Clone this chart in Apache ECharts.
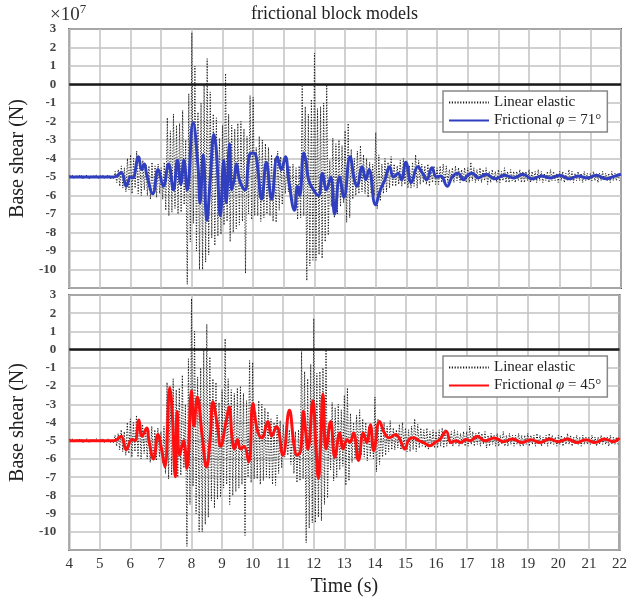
<!DOCTYPE html>
<html>
<head>
<meta charset="utf-8">
<script src="https://cdn.jsdelivr.net/npm/echarts@6/dist/echarts.min.js"></script>
<style>html,body{margin:0;padding:0;background:#fff}#c{width:630px;height:598px}</style>
</head>
<body>
<div id="c"></div>
<script>
// ---- data (values in units of 1e7 N) ----
const xTicks = [4,5,6,7,8,9,10,11,12,13,14,15,16,17,18,19,20,21,22];
const yTicks = [-10,-9,-8,-7,-6,-5,-4,-3,-2,-1,0,1,2,3];

// Linear elastic: one oscillation per cycle, cycles start at elasticStart, every elasticStep s
const elasticStart = 4.0;
const elasticStep = 0.1;
const elasticPeaks = [
 -4.95,-4.9,-4.95,-4.95,-4.9,-4.95,-4.9,-4.95,-4.95,-4.9,
 -4.95,-4.9,-4.95,-4.9,-4.95,-4.7,-4.6,-4.4,-4.5,-4.0,
 -3.8,-4.0,-3.6,-3.9,-4.1,-4.3,-4.4,-4.2,-4.4,-4.3,
 -4.5,-4.2,-1.8,-2.5,-1.6,-2.2,-2.1,-1.4,-3.0,-0.5,
 2.8,1.0,-1.5,-1.0,0.0,1.4,-0.4,-1.6,-1.8,-2.9,
 -2.2,0.6,-1.6,-2.2,-2.4,-2.1,-2.0,-2.4,-2.8,-0.6,
 -0.7,-3.4,-2.8,-3.0,-3.2,-3.4,-3.8,-4.0,-3.6,-3.9,
 -4.1,-4.2,-4.4,-4.3,-4.5,-4.4,-0.1,-1.2,-1.6,-0.8,
 1.7,-1.3,-1.2,-1.0,0.0,-4.1,-2.9,-3.2,-3.0,-3.3,
 -2.5,-2.1,-3.5,-4.0,-3.6,-3.3,-3.8,-4.0,-4.2,-4.3,
 -2.6,-3.8,-4.3,-4.0,-4.2,-3.9,-4.3,-4.4,-4.1,-4.0,
 -4.3,-4.4,-4.2,-3.8,-4.1,-4.3,-4.4,-4.3,-4.5,-4.4,
 -4.5,-4.4,-4.3,-4.4,-4.6,-4.5,-4.4,-4.5,-4.6,-4.5,
 -4.5,-4.2,-4.5,-4.6,-4.5,-4.6,-4.5,-4.7,-4.6,-4.7,
 -4.6,-4.7,-4.5,-4.7,-4.6,-4.7,-4.7,-4.6,-4.7,-4.7,
 -4.6,-4.7,-4.7,-4.6,-4.7,-4.8,-4.7,-4.6,-4.7,-4.8,
 -4.7,-4.7,-4.8,-4.6,-4.7,-4.8,-4.7,-4.8,-4.7,-4.8,
 -4.8,-4.7,-4.8,-4.8,-4.7,-4.8,-4.8,-4.7,-4.8,-4.8
];
const elasticTroughs = [
 -5.05,-5.1,-5.05,-5.05,-5.1,-5.05,-5.1,-5.05,-5.05,-5.1,
 -5.05,-5.1,-5.05,-5.1,-5.1,-5.3,-5.5,-5.6,-5.8,-5.7,
 -5.9,-5.6,-5.9,-6.0,-5.7,-6.0,-6.2,-6.0,-6.1,-5.9,
 -6.2,-6.8,-7.1,-6.9,-6.7,-7.0,-6.9,-6.5,-10.8,-8.5,
 -7.5,-9.0,-10.0,-10.0,-9.6,-9.2,-8.3,-8.7,-8.2,-8.1,
 -7.6,-7.4,-8.5,-8.0,-7.8,-7.6,-7.4,-10.2,-7.0,-7.3,
 -7.1,-7.1,-7.4,-7.2,-7.0,-7.1,-7.4,-7.45,-6.8,-6.5,
 -5.9,-5.8,-6.3,-6.8,-7.3,-7.2,-7.1,-10.6,-9.8,-9.5,
 -9.5,-9.2,-9.4,-8.5,-8.15,-6.6,-7.2,-7.0,-6.6,-6.4,
 -7.45,-7.2,-6.2,-6.0,-5.9,-5.8,-5.9,-6.1,-5.9,-6.0,
 -6.7,-6.3,-5.9,-5.8,-5.6,-5.5,-5.5,-5.4,-5.5,-5.4,
 -5.6,-5.6,-5.5,-5.6,-5.4,-5.3,-5.4,-5.5,-5.3,-5.4,
 -5.4,-5.3,-5.4,-5.3,-5.2,-5.3,-5.2,-5.3,-5.2,-5.3,
 -5.3,-5.2,-5.3,-5.2,-5.3,-5.2,-5.4,-5.3,-5.2,-5.3,
 -5.3,-5.2,-5.3,-5.3,-5.2,-5.3,-5.2,-5.3,-5.3,-5.2,
 -5.3,-5.2,-5.3,-5.2,-5.3,-5.2,-5.3,-5.2,-5.2,-5.3,
 -5.2,-5.3,-5.2,-5.2,-5.3,-5.2,-5.2,-5.3,-5.2,-5.2,
 -5.2,-5.2,-5.3,-5.2,-5.2,-5.2,-5.3,-5.2,-5.2,-5.2
];

// Frictional phi = 71 deg (upper panel)
const blueT = [4.0,5.0,5.45,5.55,5.7,5.86,6.0,6.07,6.26,6.36,6.45,6.53,6.73,6.9,7.07,7.24,7.4,7.53,7.64,7.74,7.85,
 8.04,8.2,8.27,8.37,8.49,8.6,8.72,8.8,8.93,9.04,9.12,9.23,9.3,9.38,9.46,9.56,9.73,9.88,10.01,10.1,10.28,10.43,10.6,
 10.79,10.92,11.05,11.17,11.35,11.45,11.52,11.65,11.72,11.81,11.97,12.13,12.26,12.39,12.53,12.66,12.82,12.96,13.16,
 13.3,13.38,13.56,13.67,13.78,13.99,14.15,14.3,14.45,14.58,14.73,14.84,14.98,15.16,15.37,15.53,15.66,15.83,15.98,
 16.12,16.33,16.49,16.68,16.86,17.0,17.16,17.34,17.6,17.9,18.2,18.5,18.8,19.1,19.4,19.7,20.0,20.3,20.6,20.9,21.2,
 21.5,21.8,22.0];
const blueV = [-5.0,-5.0,-5.0,-4.95,-4.75,-5.5,-5.0,-5.05,-3.9,-4.6,-4.3,-4.9,-5.9,-4.6,-5.5,-4.3,-5.7,-4.1,-5.4,-4.1,-5.7,
 -2.06,-4.4,-6.4,-3.8,-7.35,-5.15,-2.7,-3.6,-7.1,-4.1,-6.4,-3.2,-5.7,-5.15,-4.3,-5.2,-5.7,-3.8,-3.7,-3.9,-6.2,-4.2,-6.2,
 -3.9,-4.6,-3.9,-5.3,-6.8,-5.5,-6.0,-3.7,-4.1,-5.15,-5.7,-6.0,-4.8,-5.7,-5.0,-7.0,-5.0,-6.1,-3.9,
 -5.15,-5.5,-4.45,-5.15,-4.6,-6.5,-5.7,-5.15,-4.45,-5.0,-4.8,-5.15,-4.2,-5.3,-4.45,-4.8,-5.15,-4.5,-5.0,
 -4.95,-5.5,-5.0,-4.8,-5.15,-4.9,-4.8,-5.05,-4.85,-5.1,-4.9,-5.05,-4.85,-5.1,-4.95,-5.05,-4.9,-5.1,-4.95,-5.05,-4.9,
 -5.1,-4.95,-4.85];

// Frictional phi = 45 deg (lower panel)
const redT = [4.0,5.0,5.45,5.55,5.7,5.86,6.0,6.07,6.15,6.28,6.38,6.54,6.6,6.76,6.9,7.02,7.13,7.29,7.36,7.47,7.53,7.61,7.74,7.85,
 8.0,8.08,8.19,8.35,8.49,8.61,8.7,8.85,8.95,9.14,9.23,9.33,9.4,9.5,9.61,9.72,9.87,10.01,10.15,10.3,10.5,10.62,10.78,10.99,
 11.2,11.36,11.45,11.57,11.66,11.74,11.81,11.97,12.07,12.15,12.22,12.3,12.4,12.55,12.69,12.85,12.96,13.09,13.18,13.3,13.46,
 13.62,13.73,13.85,13.96,14.15,14.31,14.47,14.68,14.79,14.98,15.11,15.27,15.43,15.59,15.8,15.96,16.12,16.33,16.49,16.65,
 16.81,16.97,17.13,17.34,17.6,17.9,18.2,18.5,18.8,19.1,19.4,19.7,20.0,20.3,20.6,20.9,21.2,21.5,21.8,22.0];
const redV = [-5.0,-5.0,-5.0,-4.95,-4.75,-5.5,-5.0,-4.93,-5.0,-3.86,-4.75,-4.3,-4.93,-6.0,-4.66,-5.46,-6.44,-2.08,-3.15,-6.98,-3.4,-5.8,-5.0,-6.53,
 -2.26,-4.2,-2.6,-4.75,-6.44,-4.93,-2.88,-4.2,-5.3,-3.86,-3.15,-4.93,-5.46,-4.93,-5.46,-5.3,-6.17,-2.97,-4.4,-4.84,-3.95,-4.75,-4.22,-5.8,
 -3.33,-5.3,-5.8,-5.55,-3.4,-4.57,-5.46,-2.8,-5.3,-7.06,-5.3,-2.44,-5.46,-3.95,-5.9,-4.57,-5.46,-4.93,-5.1,-4.57,-6.08,
 -4.57,-5.1,-4.13,-5.55,-3.95,-4.57,-4.84,-4.66,-4.84,-5.46,-4.93,-4.84,-5.0,-5.1,-5.28,-5.1,-4.93,-4.48,-5.1,-5.0,
 -5.1,-4.93,-5.0,-4.75,-5.0,-4.85,-5.05,-4.9,-5.1,-4.95,-5.1,-4.9,-5.05,-4.9,-5.1,-4.95,-5.1,-4.9,-5.05,-4.85];

// ---- build ----
const SERIF = '"Liberation Serif","DejaVu Serif","Times New Roman",serif';
function pairs(t, v){ return t.map((x,i)=>[x, v[i]]); }
const elasticData = [];
elasticPeaks.forEach((p,i)=>{
  const t = elasticStart + i*elasticStep;
  elasticData.push([t, p]);
  elasticData.push([t + elasticStep/2, elasticTroughs[i]]);
});

const chart = echarts.init(document.getElementById('c'), null, {renderer:'canvas'});
const gridLines = {show:true, lineStyle:{color:'#c2c2c2', width:1.5}};
function xAxis(idx, labels){
  return {
    type:'value', gridIndex:idx, min:xTicks[0], max:xTicks[xTicks.length-1], interval:1,
    axisLine:{show:false}, axisTick:{show:false}, splitLine:gridLines,
    axisLabel:{show:labels, color:'#333', fontFamily:SERIF, fontSize:15, margin:7},
    name: labels ? 'Time (s)' : '', nameLocation:'middle', nameGap:27,
    nameTextStyle:{color:'#222', fontFamily:SERIF, fontSize:20}
  };
}
function yAxis(idx){
  return {
    type:'value', gridIndex:idx, min:-11, max:yTicks[yTicks.length-1], interval:1,
    axisLine:{show:false}, axisTick:{show:false}, splitLine:gridLines,
    axisLabel:{color:'#444', fontFamily:SERIF, fontSize:13, fontWeight:'bold', margin:13,
      formatter:v=> yTicks.indexOf(v)>=0 ? String(v) : ''},
    name:'Base shear (N)', nameLocation:'middle', nameGap:30,
    nameTextStyle:{color:'#222', fontFamily:SERIF, fontSize:20}
  };
}
const zeroLine = {silent:true, symbol:['none','none'], label:{show:false},
  lineStyle:{color:'#1a1a1a', width:2.5, type:'solid'}, data:[{yAxis:0}]};
function legend(top, names){
  return {
    left:443, top:top, orient:'vertical', data:names,
    backgroundColor:'#fff', borderColor:'#888', borderWidth:1.5,
    padding:[4,6,4,5], itemGap:3, itemWidth:40, itemHeight:12,
    itemStyle:{opacity:0},
    textStyle:{fontFamily:SERIF, fontSize:15, color:'#222',
      rich:{i:{fontFamily:SERIF, fontSize:15, fontStyle:'italic', color:'#222'}}},
    formatter:n=>n.replace('φ','{i|φ}'),
    selectedMode:false
  };
}
const elasticStyle = {color:'#1a1a1a', width:1, type:[1.2,1.6]};

chart.setOption({
  animation:false,
  backgroundColor:'#fff',
  grid:[
    {left:55, top:29, width:566, height:259, show:true, borderColor:'#555', borderWidth:2, backgroundColor:'transparent'},
    {left:55, top:295, width:566, height:261, show:true, borderColor:'#555', borderWidth:2, backgroundColor:'transparent'}
  ],
  xAxis:[xAxis(0,false), xAxis(1,true)],
  yAxis:[yAxis(0), yAxis(1)],
  legend:[
    legend(91, ['Linear elastic','Frictional φ = 71°']),
    legend(356, ['Linear elastic','Frictional φ = 45°'])
  ],
  graphic:[
    {type:'text', left:251, top:5, style:{text:'frictional block models', font:'18px '+SERIF, fill:'#222'}},
    {type:'text', left:50, top:3, style:{text:'×10{s|7}', font:'19px '+SERIF, fill:'#333',
      rich:{s:{fontFamily:SERIF, fontSize:13, verticalAlign:'top', padding:[0,0,12,0], fill:'#333'}}}}
  ],
  series:[
    {name:'Linear elastic', type:'line', xAxisIndex:0, yAxisIndex:0, data:elasticData, symbol:'none',
      lineStyle:elasticStyle, itemStyle:{color:'#111'}, z:2},
    {name:'Frictional φ = 71°', type:'line', xAxisIndex:0, yAxisIndex:0, data:pairs(blueT,blueV), symbol:'none',
      smooth:0.45, lineStyle:{color:'#2f3fc0', width:3}, itemStyle:{color:'#2f3fc0'}, z:3, markLine:zeroLine},
    {name:'Linear elastic', type:'line', xAxisIndex:1, yAxisIndex:1, data:elasticData, symbol:'none',
      lineStyle:elasticStyle, itemStyle:{color:'#111'}, z:2},
    {name:'Frictional φ = 45°', type:'line', xAxisIndex:1, yAxisIndex:1, data:pairs(redT,redV), symbol:'none',
      smooth:0.45, lineStyle:{color:'#ff1010', width:3}, itemStyle:{color:'#ff1010'}, z:3, markLine:zeroLine}
  ]
});
</script>
</body>
</html>
